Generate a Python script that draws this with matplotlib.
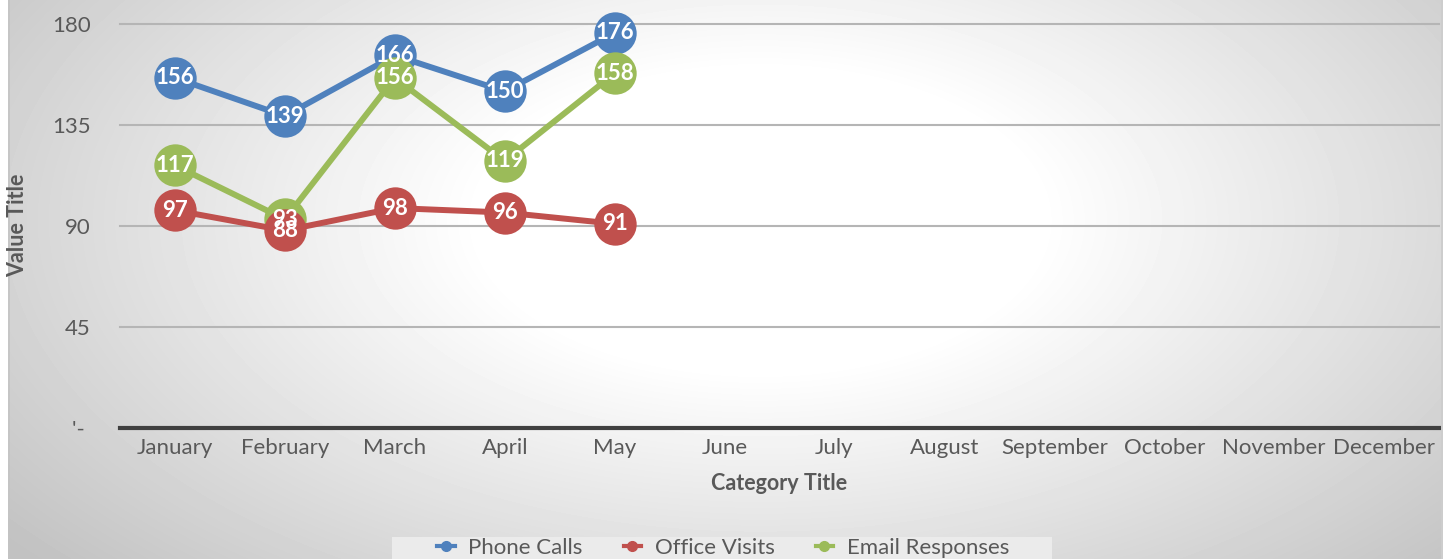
import matplotlib
matplotlib.use("Agg")
import numpy as np
import matplotlib.pyplot as plt
from matplotlib.lines import Line2D
from matplotlib.patches import Rectangle

plt.rcParams['font.family'] = ['Lato', 'DejaVu Sans']

# Data
months = ["January", "February", "March", "April", "May", "June", "July",
          "August", "September", "October", "November", "December"]
phone_calls = [156, 139, 166, 150, 176]
office_visits = [97, 88, 98, 96, 91]
email_responses = [117, 93, 156, 119, 158]
y_ticks = [0, 45, 90, 135, 180]
y_tick_labels = ["'- ", "45", "90", "135", "180"]

# Office-style colours
c_phone = "#4F81BD"
c_office = "#C0504D"
c_email = "#9BBB59"
c_text = "#595959"

W, H = 1451, 559
fig = plt.figure(figsize=(W / 100, H / 100), dpi=100)

# Radial gradient backdrop of the chart area
bg = fig.add_axes([8 / W, 0, (1441 - 8) / W, 1], zorder=-2)
yy, xx = np.mgrid[0:H, 8:1441]
r = np.sqrt(((xx - 760) / 800.0) ** 2 + ((yy - 220) / 430.0) ** 2)
shade = 1 - 0.24 * np.clip((r - 0.35) / 0.85, 0, 1)
bg.imshow(shade, cmap="gray", vmin=0, vmax=1, aspect="auto")
bg.axis("off")
for xb in (8.5, 1441.5):
    fig.add_artist(Line2D([xb / W, xb / W], [0, 1], color="#c4c4c4", lw=1.2))

ax = fig.add_axes([120 / W, 131 / H, 1319 / W, 404 / H])
ax.patch.set_alpha(0)

x = np.arange(len(months))
series = [
    (phone_calls, c_phone, "Phone Calls", 3),
    (email_responses, c_email, "Email Responses", 4),
    (office_visits, c_office, "Office Visits", 5),
]
for vals, col, name, z in series:
    xs = x[:len(vals)]
    ax.plot(xs, vals, color=col, lw=4.3, marker="o", ms=30.5,
            markeredgewidth=0, zorder=z, clip_on=False)
    for xi, v in zip(xs, vals):
        ax.text(xi, v, str(v), ha="center", va="center", color="white",
                fontsize=16, fontweight="bold", zorder=10)

ax.set_xlim(-0.5, len(months) - 0.5)
ax.set_ylim(0, 180)
ax.set_xticks(x)
ax.set_xticklabels(months)
ax.set_yticks(y_ticks)
ax.set_yticklabels(y_tick_labels)
ax.tick_params(axis="both", length=0, labelcolor=c_text, labelsize=16)
ax.tick_params(axis="y", pad=21)
ax.tick_params(axis="x", pad=7)

ax.yaxis.grid(True, color="#b5b5b5", lw=1.5)
for gl in ax.get_ygridlines():
    gl.set_clip_on(False)
ax.set_axisbelow(True)
for s in ("top", "right", "left"):
    ax.spines[s].set_visible(False)
ax.spines["bottom"].set_color("#404040")
ax.spines["bottom"].set_linewidth(3)
ax.spines["bottom"].set_zorder(2)

fig.text(18 / W, 1 - 225 / H, "Value Title", rotation=90, ha="center",
         va="center", fontsize=15.5, fontweight="bold", color=c_text)
fig.text(779 / W, 1 - 483 / H, "Category Title", ha="center", va="center",
         fontsize=15.5, fontweight="bold", color=c_text)

# Legend box (cut off by the bottom edge, as in the reference)
fig.add_artist(Rectangle((392 / W, 0), (1052 - 392) / W, (559 - 537) / H,
                         transform=fig.transFigure, facecolor="#ebebeb",
                         edgecolor="none", zorder=1))
handles = [Line2D([0], [0], color=c, lw=3, marker="o", ms=7)
           for c in (c_phone, c_office, c_email)]
leg = fig.legend(handles, ["Phone Calls", "Office Visits", "Email Responses"],
                 loc="center", bbox_to_anchor=(723 / W, 1 - 548 / H), ncol=3,
                 frameon=False, handlelength=0.8, handletextpad=0.6,
                 columnspacing=1.85, borderpad=0, borderaxespad=0,
                 fontsize=16, labelcolor=c_text)
leg.set_zorder(2)

fig.savefig("out.png", dpi=100)
